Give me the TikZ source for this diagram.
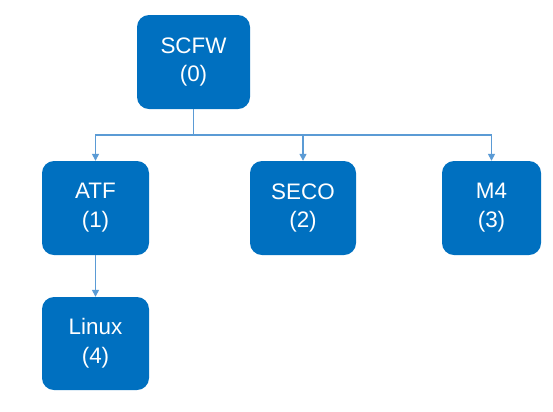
\documentclass[tikz,border=0pt]{standalone}
\usepackage{fontspec}
\setmainfont{Liberation Sans}
\usetikzlibrary{arrows.meta,positioning}
\definecolor{boxblue}{HTML}{0070C0}
\definecolor{linkblue}{HTML}{5B9BD5}
\tikzset{
  fwbox/.style={draw=none,fill=boxblue,rounded corners=12bp,text=white,align=center,
    font=\fontsize{22.5}{29}\selectfont,minimum height=94bp,inner sep=0pt},
  link/.style={draw=linkblue,line width=1.4bp,-{Triangle[width=7bp,length=7bp]}}
}

\begin{document}
\begin{tikzpicture}[x=1bp,y=-1bp]
  \useasboundingbox (0,0) rectangle (553,411);
  % boot chain
  \node[fwbox,minimum width=113bp] (scfw) at (193.5,62) {SCFW\\(0)};
  \node[fwbox,minimum width=107bp] (atf) at (95.5,208) {ATF\\(1)};
  \node[fwbox,minimum width=106bp] (seco) at (303,208) {SECO\\(2)};
  \node[fwbox,minimum width=99bp] (mfour) at (491.5,208) {M4\\(3)};
  \node[fwbox,minimum width=107bp,minimum height=93bp] (linux) at (95.5,343.5) {Linux\\(4)};
  \coordinate (split) at (193.5,135);
  \draw[link,-] (scfw.south) -- (split);
  \draw[link] (split) -| (atf.north);
  \draw[link] (split) -| (seco.north);
  \draw[link] (split) -| (mfour.north);
  \draw[link] (atf.south) -- (linux.north);
\end{tikzpicture}
\end{document}
